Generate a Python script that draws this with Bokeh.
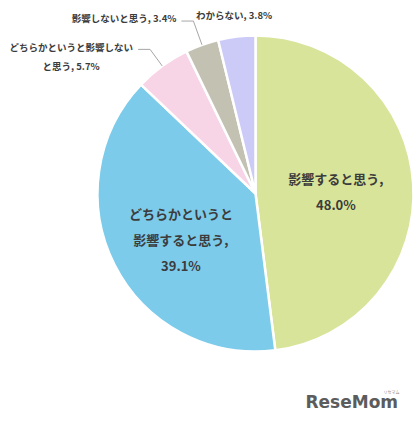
import math
from bokeh.plotting import figure
from bokeh.models import Range1d, ColumnDataSource
from bokeh.core.properties import value
from bokeh.embed import file_html
from bokeh.resources import INLINE

# ---- data ----
categories = ["影響すると思う", "どちらかというと影響すると思う",
              "どちらかというと影響しないと思う", "影響しないと思う", "わからない"]
values = [48.0, 39.1, 5.7, 3.4, 3.8]
colors = ["#d8e49a", "#7ccbea", "#f8d5e6", "#c3c1b2", "#cccbf7"]
inside_heads = {0: ["影響すると思う,"], 1: ["どちらかというと", "影響すると思う,"]}
outside_heads = {2: ["どちらかというと影響しない", "と思う,"], 3: ["影響しないと思う,"], 4: ["わからない,"]}

FONT = value("Noto Sans CJK JP")
TXT = "#3c3c3c"
W, H = 417, 426

def Y(img_y):
    return H - img_y

p = figure(width=W, height=H, x_range=Range1d(0, W), y_range=Range1d(0, H),
           output_backend="svg", toolbar_location=None,
           x_axis_type=None, y_axis_type=None, min_border=0,
           outline_line_color=None, background_fill_color="white",
           border_fill_color="white")
for g in p.grid:
    g.visible = False

cx, cy, R = 255, 193, 158

starts, ends, mids = [], [], []
a = math.pi / 2
for v in values:
    e = a - v / 100 * 2 * math.pi
    starts.append(e)
    ends.append(a)
    mids.append((a + e) / 2)
    a = e

src = ColumnDataSource(dict(x=[cx] * len(values), y=[Y(cy)] * len(values),
                            start=starts, end=ends, color=colors, cat=categories))
p.wedge(x="x", y="y", radius=R, start_angle="start", end_angle="end",
        direction="anticlock", fill_color="color", line_color="white",
        line_width=2.5, source=src)

def pct(v):
    return f"{v:.1f}%"

inside_r = {0: 0.51, 1: 0.55}
inside_nudge = {0: (0, 3), 1: (3, 7)}
line_h = 26
tx, ty, tt = [], [], []
for i, heads in inside_heads.items():
    lines = heads + [pct(values[i])]
    bx = cx + inside_r[i] * R * math.cos(mids[i]) + inside_nudge[i][0]
    by = cy - inside_r[i] * R * math.sin(mids[i]) + inside_nudge[i][1]
    n = len(lines)
    for k, s in enumerate(lines):
        tx.append(bx)
        ty.append(Y(by + (k - (n - 1) / 2) * line_h))
        tt.append(s)
p.text(x=tx, y=ty, text=tt, text_font=FONT, text_font_style="bold",
       text_font_size="13px", text_color=TXT, text_align="center",
       text_baseline="middle")

i = 4
lx = cx + 1.14 * R * math.cos(mids[i])
ly = cy - 1.14 * R * math.sin(mids[i])
p.text(x=[lx], y=[Y(ly)], text=[outside_heads[i][0] + " " + pct(values[i])],
       text_font=FONT, text_font_style="bold", text_font_size="9.5px",
       text_color=TXT, text_align="center", text_baseline="middle")

elbow_r = {2: 1.13, 3: 1.16}
for i in (2, 3):
    ex = cx + R * math.cos(mids[i])
    ey = cy - R * math.sin(mids[i])
    bx = cx + elbow_r[i] * R * math.cos(mids[i])
    by = cy - elbow_r[i] * R * math.sin(mids[i])
    hx = bx - 12
    p.line(x=[ex, bx, hx], y=[Y(ey), Y(by), Y(by)], line_color="#a6a6a6", line_width=1)
    heads = outside_heads[i]
    if len(heads) == 1:
        p.text(x=[hx - 5], y=[Y(by - 3)], text=[heads[0] + " " + pct(values[i])],
               text_font=FONT, text_font_style="bold", text_font_size="9.5px",
               text_color=TXT, text_align="right", text_baseline="middle")
    else:
        p.text(x=[hx - 5], y=[Y(by - 2)], text=[heads[0]],
               text_font=FONT, text_font_style="bold", text_font_size="9.5px",
               text_color=TXT, text_align="right", text_baseline="middle")
        p.text(x=[hx - 67], y=[Y(by + 17)], text=[heads[1] + " " + pct(values[i])],
               text_font=FONT, text_font_style="bold", text_font_size="9.5px",
               text_color=TXT, text_align="center", text_baseline="middle")

p.text(x=[305], y=[Y(401)], text=["ReseMom"], text_font=value("DejaVu Sans"),
       text_font_style="bold", text_font_size="17px", text_color="#5c5c5c",
       text_align="left", text_baseline="middle")
p.text(x=[391], y=[Y(391)], text=["リセマム"], text_font=FONT,
       text_font_size="4px", text_color="#888888", text_align="center",
       text_baseline="middle")

open("out.html", "w").write(file_html(p, INLINE))
